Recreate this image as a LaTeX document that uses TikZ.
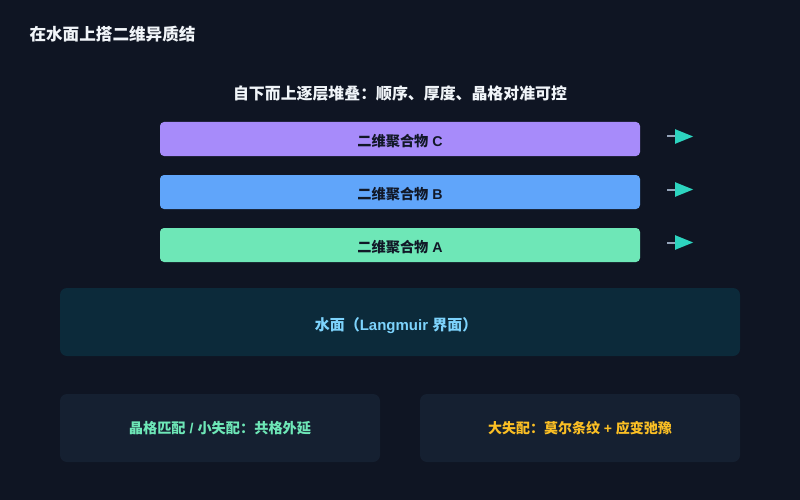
\documentclass[tikz,border=0pt]{standalone}
\usepackage{fontspec}
\setmainfont{Noto Sans CJK SC}
\newfontfamily\latinf{Liberation Sans}
\usetikzlibrary{arrows.meta}
\definecolor{bg}{HTML}{0F1523}
\definecolor{cpurple}{HTML}{A78BFA}
\definecolor{cblue}{HTML}{60A5FA}
\definecolor{cgreen}{HTML}{6EE7B7}
\definecolor{waterfill}{HTML}{0C2A3A}
\definecolor{watertext}{HTML}{7DD3FC}
\definecolor{boxfill}{HTML}{152031}
\definecolor{amber}{HTML}{FBBF24}
\definecolor{darktext}{HTML}{111827}
\definecolor{teal}{HTML}{2DD4BF}
\definecolor{linegray}{HTML}{94A3B8}
\definecolor{titlecol}{HTML}{F1F5F9}
\tikzset{
  layerbox/.style={rounded corners=4pt, minimum width=480pt, minimum height=34pt, inner sep=0pt},
  layertext/.style={text=darktext, inner sep=0pt, font=\bfseries\fontsize{14.2}{16}\selectfont},
  panel/.style={rounded corners=7pt, inner sep=0pt, minimum height=68pt},
  paneltext/.style={inner sep=0pt, font=\bfseries\fontsize{14}{16}\selectfont},
  sidearrow/.style={draw=linegray, line width=2pt, arrows={-Triangle[length=18pt,width=14pt,color=teal]}},
}
\begin{document}
\begin{tikzpicture}[x=1pt,y=-1pt]
\fill[bg] (0,0) rectangle (800,500);
\useasboundingbox (0,0) rectangle (800,500);
\node[anchor=west, text=titlecol, font=\bfseries\fontsize{16.6}{18}\selectfont] (title) at (26,34.5) {在水面上搭二维异质结};
\node[text=titlecol, font=\bfseries\fontsize{15.9}{18}\selectfont] (sub) at (400,93) {自下而上逐层堆叠：顺序、厚度、晶格对准可控};
\node[layerbox, fill=cpurple] (C) at (400,139) {};
\node[layerbox, fill=cblue] (B) at (400,192) {};
\node[layerbox, fill=cgreen] (A) at (400,245) {};
\node[layertext] (Ct) at ([yshift=-2.5pt]C.center) {二维聚合物{\latinf\ C}};
\node[layertext] (Bt) at ([yshift=-2.5pt]B.center) {二维聚合物{\latinf\ B}};
\node[layertext] (At) at ([yshift=-2.5pt]A.center) {二维聚合物{\latinf\ A}};
\foreach \n in {A,B,C}{
  \coordinate (\n s) at ([xshift=27pt,yshift=2.5pt]\n.east);
  \coordinate (\n e) at ([xshift=53pt,yshift=2.5pt]\n.east);
  \draw[sidearrow] (\n s) -- (\n e);
}
\node[panel, fill=waterfill, minimum width=680pt] (water) at (400,322) {};
\node[paneltext, text=watertext, font=\bfseries\fontsize{15}{17}\selectfont] (watert) at ([xshift=-4pt,yshift=-4pt]water.center) {水面（{\latinf Langmuir }界面）};
\node[panel, fill=boxfill, minimum width=320pt] (left) at (220,428) {};
\node[paneltext, text=cgreen, font=\bfseries\fontsize{14.2}{16}\selectfont] (leftt) at ([yshift=-0.5pt]left.center) {晶格匹配{\latinf\ / }小失配：共格外延};
\node[panel, fill=boxfill, minimum width=320pt] (right) at (580,428) {};
\node[paneltext, text=amber, font=\bfseries\fontsize{14}{16}\selectfont] (rightt) at ([yshift=-0.5pt]right.center) {大失配：莫尔条纹{\latinf\ + }应变弛豫};
\end{tikzpicture}
\end{document}
